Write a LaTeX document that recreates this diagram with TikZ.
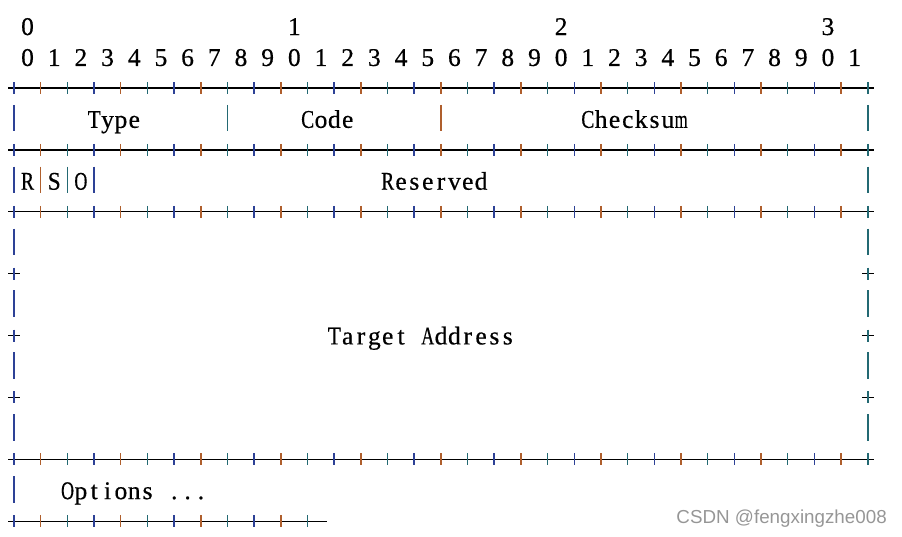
\documentclass[tikz,border=0pt]{standalone}
\usepackage{fontspec}
\usepackage{graphicx}
\setmainfont[FakeBold=0.5]{Liberation Serif}
\newfontfamily\wmfont{Liberation Sans}
\definecolor{ph0}{RGB}{45,65,150}
\definecolor{ph1}{RGB}{35,105,115}
\definecolor{ph2}{RGB}{175,95,45}
\definecolor{wmgray}{RGB}{150,150,150}
\newcommand\cellbox[1]{\sbox0{#1}\ifdim\wd0>13.0pt\makebox[13.34pt]{\resizebox{13.0pt}{\height}{#1}}\else\makebox[13.34pt]{#1}\fi}
\def\monoloop#1{\ifx#1\relax\else\cellbox{#1}\expandafter\monoloop\fi}
\newcommand\mono[1]{\monoloop#1\relax}
\begin{document}
\begin{tikzpicture}[x=1pt,y=-1pt,
  txt/.style={inner sep=0pt,anchor=base west,font=\fontsize{25.5}{25.5}\selectfont},
  hl/.style={line width=1.2pt,black},
  tk/.style={line width=1.5pt}]
\useasboundingbox (0,0) rectangle (902,536);
% full separator lines
\foreach \r in {2,4,6,14} {
  \draw[hl] ({14-6},{35+30.94*\r-8.8}) -- ({14+13.34*64+6},{35+30.94*\r-8.8});
  \foreach \c in {0,2,...,64} {
    \pgfmathtruncatemacro\ph{mod(\c,3)}
    \draw[tk,color=ph\ph] ({14+13.34*\c},{35+30.94*\r-8.8-6}) -- ++(0,12);
  }
}
% last partial line
\draw[hl] ({14-6},{35+30.94*16-8.8}) -- ({14+13.34*23+6.67},{35+30.94*16-8.8});
\foreach \c in {0,2,...,22} {
  \pgfmathtruncatemacro\ph{mod(\c,3)}
  \draw[tk,color=ph\ph] ({14+13.34*\c},{35+30.94*16-8.8-6}) -- ++(0,12);
}
% standalone pluses
\foreach \r in {8,10,12} {
  \foreach \c in {0,64} {
    \pgfmathtruncatemacro\ph{mod(\c,3)}
    \draw[hl] ({14+13.34*\c-5.8},{35+30.94*\r-8.8}) -- ++(11.6,0);
    \draw[tk,color=ph\ph] ({14+13.34*\c},{35+30.94*\r-8.8-6}) -- ++(0,12);
  }
}
% vertical bars
\foreach \r/\c in {3/0,3/16,3/32,3/64,5/0,5/2,5/4,5/6,5/64,7/0,7/64,9/0,9/64,11/0,11/64,13/0,13/64,15/0} {
  \pgfmathtruncatemacro\ph{mod(\c,3)}
  \draw[tk,color=ph\ph] ({14+13.34*\c},{35+30.94*\r-23}) -- ({14+13.34*\c},{35+30.94*\r+3.6});
}
% header digits
\node[txt] (h0) at ({14+13.34*1-6.67},{35}) {\mono{0}};
\node[txt] (h1) at ({14+13.34*21-6.67},{35}) {\mono{1}};
\node[txt] (h2) at ({14+13.34*41-6.67},{35}) {\mono{2}};
\node[txt] (h3) at ({14+13.34*61-6.67},{35}) {\mono{3}};
\node[txt] (bits) at ({14+13.34*1-6.67},{35+30.94}) {\mono{0~1~2~3~4~5~6~7~8~9~0~1~2~3~4~5~6~7~8~9~0~1~2~3~4~5~6~7~8~9~0~1}};
% fields
\node[txt] (type) at ({14+13.34*6-6.67},{35+30.94*3}) {\mono{Type}};
\node[txt] (code) at ({14+13.34*22-6.67},{35+30.94*3}) {\mono{Code}};
\node[txt] (csum) at ({14+13.34*43-6.67},{35+30.94*3}) {\mono{Checksum}};
\node[txt] (fr) at ({14+13.34*1-6.67},{35+30.94*5}) {\mono{R}};
\node[txt] (fs) at ({14+13.34*3-6.67},{35+30.94*5}) {\mono{S}};
\node[txt] (fo) at ({14+13.34*5-6.67},{35+30.94*5}) {\mono{O}};
\node[txt] (resv) at ({14+13.34*28-6.67},{35+30.94*5}) {\mono{Reserved}};
\node[txt] (taddr) at ({14+13.34*24-6.67},{35+30.94*10}) {\mono{Target~Address}};
\node[txt] (opts) at ({14+13.34*4-6.67},{35+30.94*15}) {\mono{Options~...}};
% watermark
\node[anchor=base east,inner sep=0pt,font=\wmfont\fontsize{18.8}{18.8}\selectfont,text=wmgray] (wm) at (887,523) {CSDN @fengxingzhe008};
\end{tikzpicture}
\end{document}
